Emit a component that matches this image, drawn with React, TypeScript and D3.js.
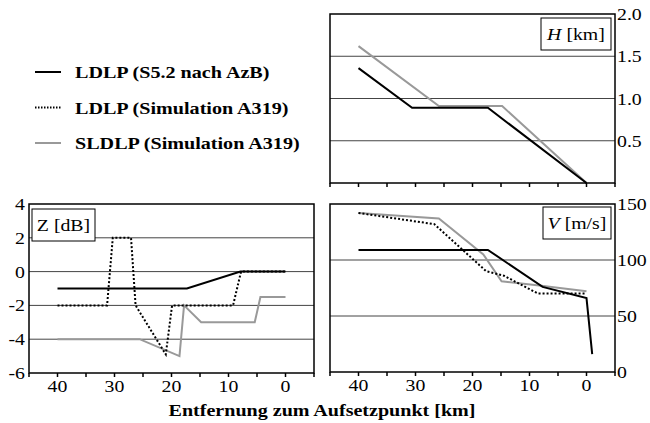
import React from 'react';
import * as d3 from 'd3';

type Pt = [number, number];

// Höhe H [km] über Entfernung [km]
const hLdlpAzb: Pt[] = [[40, 1.36], [30.6, 0.89], [17.3, 0.89], [0, 0]];
const hSldlpSim: Pt[] = [[40, 1.62], [25.9, 0.91], [14.8, 0.91], [0, 0]];

// Z [dB]
const zLdlpAzb: Pt[] = [[40, -1], [17.3, -1], [7.9, 0], [0, 0]];
const zLdlpSim: Pt[] = [[40, -2], [31.3, -2], [30.3, 2], [27.1, 2], [26.3, -2], [21.0, -4.9], [19.9, -2], [9.2, -2], [7.8, 0], [0, 0]];
const zSldlpSim: Pt[] = [[40, -4], [25.6, -4], [18.6, -5], [17.8, -2], [14.8, -3], [5.4, -3], [4.4, -1.5], [0, -1.5]];

// V [m/s]
const vLdlpAzb: Pt[] = [[40, 109], [17.3, 109], [7.7, 76], [0, 66], [-1, 16]];
const vLdlpSim: Pt[] = [[40, 142], [26.7, 132], [17.6, 90], [14.5, 86], [8.5, 70], [0, 70]];
const vSldlpSim: Pt[] = [[40, 142], [25.9, 137], [18.1, 105], [14.9, 81], [7.9, 77], [0, 72]];

const xTicks = [45, 40, 35, 30, 25, 20, 15, 10, 5, 0, -5];
const xLabels = [40, 30, 20, 10, 0];
const hTicks = [0.5, 1.0, 1.5, 2.0];
const zTicks = [-6, -4, -2, 0, 2, 4];
const vTicks = [0, 50, 100, 150];

const legendItems = [
  { label: 'LDLP (S5.2 nach AzB)', kind: 'azb' },
  { label: 'LDLP (Simulation A319)', kind: 'sim' },
  { label: 'SLDLP (Simulation A319)', kind: 'sl' },
];

const FONT = 'Liberation Serif';
const SX = 1.2; // Schrift im Original etwas breiter

const styleOf = (kind: string) => {
  if (kind === 'azb') return { stroke: '#000', strokeWidth: 2, dash: undefined };
  if (kind === 'sim') return { stroke: '#000', strokeWidth: 2, dash: '2,2' };
  return { stroke: '#999', strokeWidth: 2, dash: undefined };
};

const T = ({ x, y, size, anchor, bold, sx, children }: any) => (
  <text transform={`translate(${x},${y}) scale(${sx || SX},1)`} textAnchor={anchor || 'start'}
    fontSize={size} fontWeight={bold ? 'bold' : 'normal'} fontFamily={FONT}>{children}</text>
);

const Panel = ({ x0, x1, y0, y1, yDomain, yTicks, grid, tickSide, fmt, series, showX, box }: any) => {
  const x = d3.scaleLinear().domain([45, -5]).range([x0, x1]);
  const y = d3.scaleLinear().domain(yDomain).range([y1, y0]);
  const line = d3.line<Pt>().x(d => x(d[0])).y(d => y(d[1]));
  return (
    <g>
      {grid.map((g: number) => (
        <line key={'g' + g} x1={x0} x2={x1} y1={y(g)} y2={y(g)} stroke="#444" strokeWidth={1} />
      ))}
      {series.map((s: any, i: number) => {
        const st = styleOf(s.kind);
        return (
          <path key={i} d={line(s.data) || ''} fill="none" stroke={st.stroke}
            strokeWidth={st.strokeWidth} strokeDasharray={st.dash} />
        );
      })}
      <rect x={x0} y={y0} width={x1 - x0} height={y1 - y0} fill="none" stroke="#000" strokeWidth={1.5} />
      {xTicks.map(t => (
        <line key={'t' + t} x1={x(t)} x2={x(t)} y1={y1} y2={y1 + 4} stroke="#000" strokeWidth={1.5} />
      ))}
      {showX && xLabels.map(t => (
        <T key={'l' + t} x={x(t)} y={y1 + 19} size={16.5} anchor="middle">{t}</T>
      ))}
      {yTicks.map((t: number) => (
        <T key={'y' + t} x={tickSide === 'right' ? x1 + 2 : x0 - 4} y={y(t) + 6} size={16.5}
          anchor={tickSide === 'right' ? 'start' : 'end'}>{fmt(t)}</T>
      ))}
      <rect x={box.x} y={box.y} width={box.w} height={32} fill="#fff" stroke="#000" strokeWidth={1} />
      <text transform={`translate(${box.x + box.w / 2},${box.y + 22}) scale(${SX},1)`} textAnchor="middle"
        fontSize={16.5} fontFamily={FONT}>
        <tspan fontStyle={box.italic ? 'italic' : 'normal'}>{box.sym}</tspan>{' ' + box.unit}
      </text>
    </g>
  );
};

export default function App() {
  return (
    <svg width={650} height={423} style={{ position: 'absolute', left: 0, top: 0, background: '#fff' }}>
      <Panel x0={330} x1={615} y0={14} y1={183} yDomain={[0, 2]} yTicks={hTicks} grid={[0.5, 1, 1.5]}
        tickSide="right" fmt={(t: number) => t.toFixed(1)} showX={false}
        box={{ x: 541, y: 18, w: 70, sym: 'H', unit: '[km]', italic: true }}
        series={[{ kind: 'sl', data: hSldlpSim }, { kind: 'azb', data: hLdlpAzb }]} />
      <Panel x0={29} x1={314} y0={204} y1={373} yDomain={[-6, 4]} yTicks={zTicks} grid={[-4, -2, 0, 2]}
        tickSide="left" fmt={(t: number) => String(t)} showX={true}
        box={{ x: 32, y: 209, w: 63, sym: 'Z', unit: '[dB]', italic: false }}
        series={[{ kind: 'sl', data: zSldlpSim }, { kind: 'azb', data: zLdlpAzb }, { kind: 'sim', data: zLdlpSim }]} />
      <Panel x0={330} x1={615} y0={204} y1={372} yDomain={[0, 150]} yTicks={vTicks} grid={[50, 100]}
        tickSide="right" fmt={(t: number) => String(t)} showX={true}
        box={{ x: 543, y: 207, w: 68, sym: 'V', unit: '[m/s]', italic: true }}
        series={[{ kind: 'sl', data: vSldlpSim }, { kind: 'sim', data: vLdlpSim }, { kind: 'azb', data: vLdlpAzb }]} />
      <T x={322} y={416} size={17} anchor="middle" bold sx={1.18}>Entfernung zum Aufsetzpunkt [km]</T>
      {legendItems.map((it, i) => {
        const st = styleOf(it.kind);
        const ly = 72 + i * 35.5;
        return (
          <g key={it.label}>
            <line x1={35} x2={61} y1={ly} y2={ly} stroke={st.stroke} strokeWidth={st.strokeWidth}
              strokeDasharray={it.kind === 'sim' ? '1.5,1.5' : undefined} />
            <T x={75} y={ly + 6} size={16.5} bold sx={1.22}>{it.label}</T>
          </g>
        );
      })}
    </svg>
  );
}
